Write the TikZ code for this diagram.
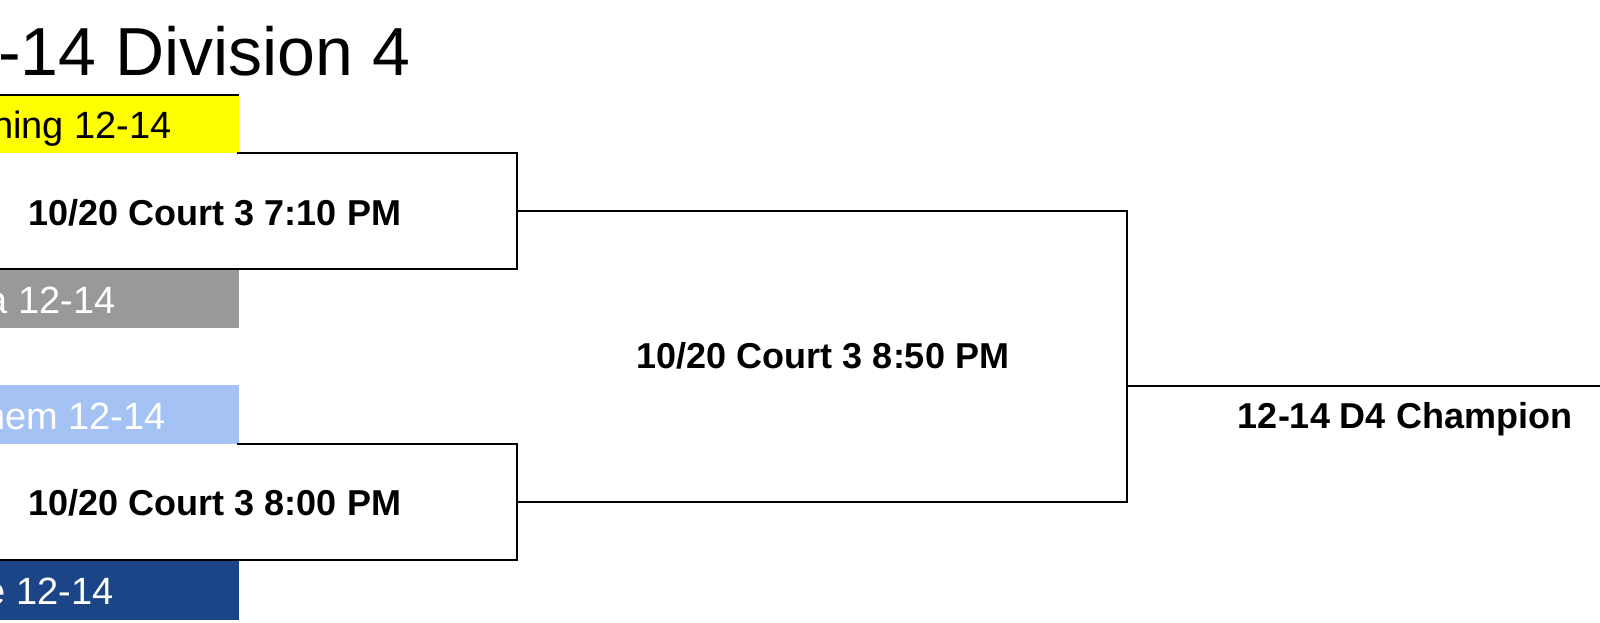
\documentclass[tikz,border=0pt]{standalone}
\usepackage{fontspec}
\setmainfont{Liberation Sans}
\usetikzlibrary{positioning}
\definecolor{giallo}{HTML}{FFFF00}
\definecolor{grigio}{HTML}{999999}
\definecolor{azzurro}{HTML}{A4C2F4}
\definecolor{blu}{HTML}{1C4587}
\begin{document}
\begin{tikzpicture}[x=1pt,y=-1pt,
	squadra/.style={anchor=base east,inner sep=0pt,font=\fontsize{38}{44}\selectfont},
	partita/.style={anchor=base,inner sep=0pt,font=\bfseries\fontsize{36}{42}\selectfont},
	linea/.style={line width=2.6pt}]
	\useasboundingbox (0,0) rectangle (1600,623);
	\clip (0,0) rectangle (1600,623);
	\begin{scope}
	  \node[anchor=base west,inner sep=0pt,font=\fontsize{68}{80}\selectfont] (titolo) at (-2,76) {-14 Division 4};
	
	  % squadre
	  \fill[giallo] (0,95) rectangle (239,153);
	  \fill[grigio] (0,269) rectangle (239,328);
	  \fill[azzurro] (0,385) rectangle (239,444);
	  \fill[blu] (0,560) rectangle (239,620);
	  \draw[linea] (0,95) -- (239,95);
	
	  \node[squadra] (sq1) at (172,139) {tning 12-14};
	  \node[squadra,white] (sq2) at (116,313) {a 12-14};
	  \node[squadra,white] (sq3) at (166,429) {hem 12-14};
	  \node[squadra,white] (sq4) at (114,604) {e 12-14};
	
	  % primo turno
	  \coordinate (p1a) at (237,153); \coordinate (p1b) at (517,153);
	  \coordinate (p1c) at (517,269); \coordinate (p1d) at (0,269);
	  \coordinate (p1m) at (517,211);
	  \coordinate (p2a) at (237,444); \coordinate (p2b) at (517,444);
	  \coordinate (p2c) at (517,560); \coordinate (p2d) at (0,560);
	  \coordinate (p2m) at (517,502);
	  \draw[linea] (p1a) -- (p1b) -- (p1c) -- (p1d);
	  \draw[linea] (p2a) -- (p2b) -- (p2c) -- (p2d);
	  \node[partita] (p1) at (215,225) {10/20 Court 3 7:10 PM};
	  \node[partita] (p2) at (215,515) {10/20 Court 3 8:00 PM};
	
	  % finale
	  \coordinate (f1) at (1127,211); \coordinate (f2) at (1127,502);
	  \coordinate (fm) at (1127,386); \coordinate (fine) at (1600,386);
	  \draw[linea] (p1m) -- (f1) -- (f2) -- (p2m);
	  \draw[linea] (fm) -- (fine);
	  \node[partita] (p3) at (823,368) {10/20 Court 3 8:50 PM};
	  \node[partita] (campione) at (1405,428) {12-14 D4 Champion};
	\end{scope}
\end{tikzpicture}
\end{document}
